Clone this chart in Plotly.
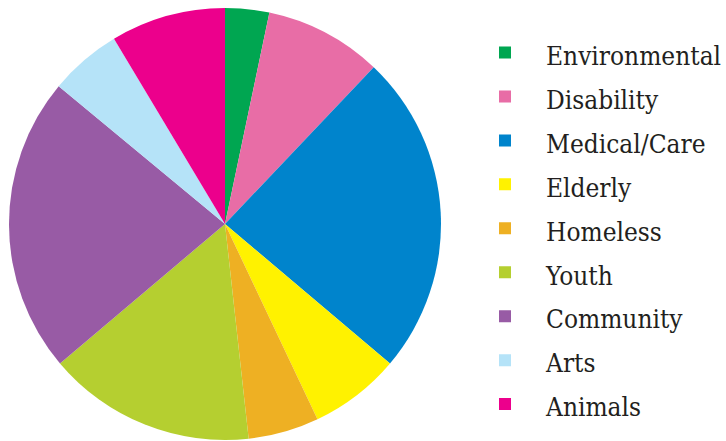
import plotly.graph_objects as go

categories = ["Environmental", "Disability", "Medical/Care", "Elderly", "Homeless",
              "Youth", "Community", "Arts", "Animals"]
values = [3.3, 8.8, 24.1, 6.8, 5.3, 15.6, 22.2, 5.4, 8.6]
colors = ["#00A651", "#E86DA6", "#0084CC", "#FFF200", "#EEB023",
          "#B5CF30", "#985BA5", "#B5E3F8", "#EC008C"]

W, H = 726, 441

# legend text drawn at a smaller size than the legend row font (for row spacing)
legend_labels = ['<span style="font-size:26px">%s</span>' % c for c in categories]

fig = go.Figure(go.Pie(
    labels=legend_labels,
    values=values,
    sort=False,
    direction="clockwise",
    rotation=0,
    textinfo="none",
    hovertemplate="%{label}: %{value}%<extra></extra>",
    marker=dict(colors=colors, line=dict(width=0)),
    domain=dict(x=[9 / W, 441 / W], y=[1 / H, 433 / H]),
))

fig.update_layout(
    width=W, height=H,
    margin=dict(l=0, r=0, t=0, b=0, autoexpand=False),
    paper_bgcolor="white",
    plot_bgcolor="white",
    showlegend=True,
    legend=dict(
        x=464 / W, xanchor="left",
        y=1 - 228.5 / H, yanchor="middle",
        font=dict(family="DejaVu Serif Condensed, DejaVu Serif", size=31.5, color="#231F20"),
        itemwidth=72,
        bgcolor="rgba(0,0,0,0)",
    ),
)

fig.write_html("out.html")
